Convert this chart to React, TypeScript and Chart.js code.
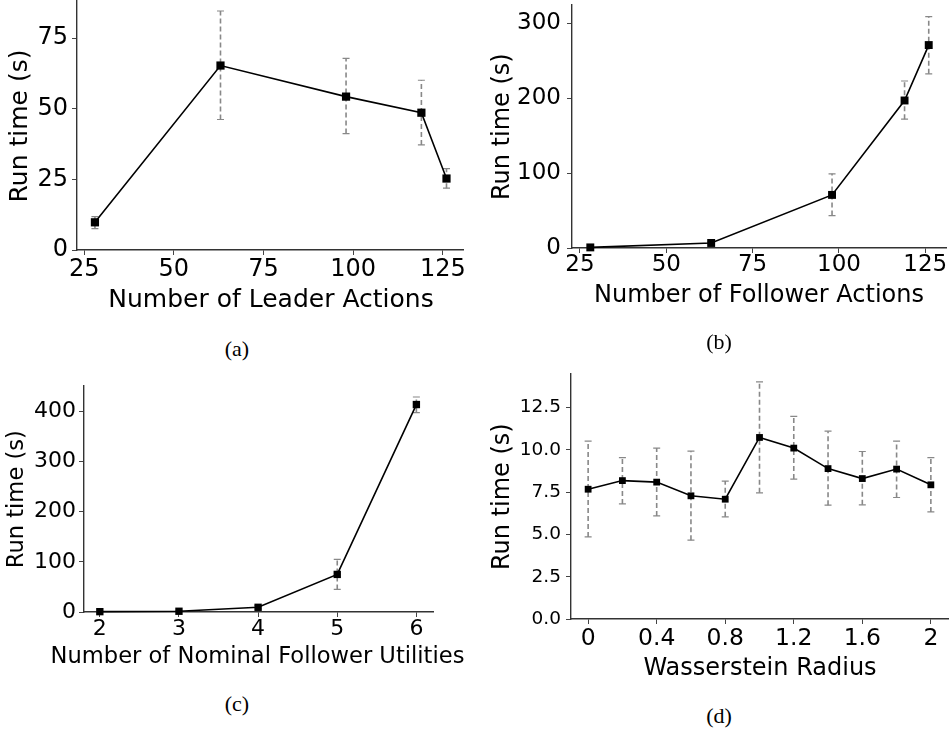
import React, { useEffect, useRef } from "react";
import { Chart, registerables } from "chart.js";

Chart.register(...registerables);

// ---------- data ----------
const leaderActions = [28, 63, 98, 119, 126];
const leaderTime = [9.8, 65.3, 54.3, 48.6, 25.3];
const leaderLow = [7.6, 46.2, 41.2, 37.2, 21.9];
const leaderHigh = [11.8, 84.6, 67.8, 60.1, 28.8];
const leaderXTicks = [25, 50, 75, 100, 125];
const leaderYTicks = [0, 25, 50, 75];

const followerActions = [28, 63, 98, 119, 126];
const followerTime = [0.8, 6.7, 70.9, 197, 271];
const followerLow = [0.3, 5, 43.3, 172, 232.6];
const followerHigh = [1.3, 8.5, 99, 223, 309];
const followerXTicks = [25, 50, 75, 100, 125];
const followerYTicks = [0, 100, 200, 300];

const utilityCounts = [2, 3, 4, 5, 6];
const utilityTime = [0.7, 1.5, 9.4, 75, 414];
const utilityLow = [0.4, 1.0, 6, 45, 398];
const utilityHigh = [1.0, 2.0, 13, 105, 429];
const utilityXTicks = [2, 3, 4, 5, 6];
const utilityYTicks = [0, 100, 200, 300, 400];

const radii = [0, 0.2, 0.4, 0.6, 0.8, 1.0, 1.2, 1.4, 1.6, 1.8, 2.0];
const radiusTime = [7.67, 8.18, 8.09, 7.28, 7.08, 10.73, 10.1, 8.89, 8.3, 8.86, 7.93];
const radiusLow = [4.85, 6.8, 6.09, 4.66, 6.04, 7.46, 8.27, 6.73, 6.75, 7.18, 6.33];
const radiusHigh = [10.51, 9.54, 10.1, 9.92, 8.15, 14.02, 11.97, 11.1, 9.9, 10.51, 9.54];
const radiusXTicks = [0, 0.4, 0.8, 1.2, 1.6, 2];
const radiusYTicks = [0, 2.5, 5, 7.5, 10, 12.5];

const yTitle = "Run time (s)";
const captions = ["(a)", "(b)", "(c)", "(d)"];

const FONT = "DejaVu Sans";

// ---------- plugins ----------
const errorBarPlugin = {
  id: "errorBars",
  beforeDatasetsDraw(chart: any) {
    const ctx = chart.ctx;
    const xs = chart.scales.x;
    const ys = chart.scales.y;
    chart.data.datasets.forEach((ds: any) => {
      ds.data.forEach((pt: any, i: number) => {
        const x = xs.getPixelForValue(pt.x);
        const yl = ys.getPixelForValue(ds.errLow[i]);
        const yh = ys.getPixelForValue(ds.errHigh[i]);
        ctx.save();
        ctx.strokeStyle = "#888";
        ctx.lineWidth = 1.6;
        ctx.setLineDash([5, 3]);
        ctx.beginPath();
        ctx.moveTo(x, yl);
        ctx.lineTo(x, yh);
        ctx.stroke();
        ctx.setLineDash([]);
        ctx.lineWidth = 1.2;
        ctx.beginPath();
        ctx.moveTo(x - 3.5, yl);
        ctx.lineTo(x + 3.5, yl);
        ctx.moveTo(x - 3.5, yh);
        ctx.lineTo(x + 3.5, yh);
        ctx.stroke();
        ctx.restore();
      });
    });
  },
};

const axisTitlePlugin = {
  id: "axisTitles",
  afterDraw(chart: any, _args: any, opts: any) {
    const ctx = chart.ctx;
    ctx.save();
    ctx.fillStyle = "#000";
    ctx.font = `${opts.size}px "${FONT}"`;
    ctx.textAlign = "center";
    ctx.textBaseline = "alphabetic";
    ctx.fillText(opts.xText, opts.xCenter, opts.xBaseline);
    ctx.translate(opts.yBaseline, opts.yCenter);
    ctx.rotate(-Math.PI / 2);
    ctx.fillText(opts.yText, 0, 0);
    ctx.restore();
  },
};

type PanelCfg = {
  left: number; top: number; width: number; height: number;
  area: { left: number; right: number; top: number; bottom: number };
  xs: number[]; ys: number[]; low: number[]; high: number[];
  xTicks: number[]; yTicks: number[];
  xMin: number; xMax: number; yMin: number; yMax: number;
  xTitle: string;
  xTickSize: number; yTickSize: number; titleSize: number;
  xTickPad: number; yTickPad: number;
  xTitleBaseline: number; xTitleCenter: number;
  yTitleBaseline: number; yTitleCenter: number;
  marker: number;
  yFmt?: (v: number) => string;
};

function Panel({ cfg }: { cfg: PanelCfg }) {
  const ref = useRef<HTMLCanvasElement>(null);
  useEffect(() => {
    const p = cfg;
    const chart = new Chart(ref.current as HTMLCanvasElement, {
      type: "line",
      data: {
        datasets: [
          {
            data: p.xs.map((x, i) => ({ x, y: p.ys[i] })),
            errLow: p.low,
            errHigh: p.high,
            borderColor: "#000",
            borderWidth: 1.6,
            pointStyle: "rect",
            pointRadius: p.marker,
            pointBackgroundColor: "#000",
            pointBorderWidth: 0,
            tension: 0,
            fill: false,
            clip: false,
          } as any,
        ],
      },
      options: {
        responsive: false,
        maintainAspectRatio: false,
        animation: false,
        devicePixelRatio: 1,
        layout: {
          autoPadding: false,
          padding: { left: 0, top: p.area.top, right: p.width - p.area.right, bottom: 0 },
        },
        plugins: {
          legend: { display: false },
          tooltip: { enabled: false },
          title: { display: false },
          axisTitles: {
            size: p.titleSize,
            xText: p.xTitle,
            xCenter: p.xTitleCenter,
            xBaseline: p.xTitleBaseline,
            yText: yTitle,
            yCenter: p.yTitleCenter,
            yBaseline: p.yTitleBaseline,
          },
        },
        scales: {
          x: {
            type: "linear",
            min: p.xMin,
            max: p.xMax,
            afterBuildTicks: (s: any) => {
              s.ticks = p.xTicks.map((v) => ({ value: v }));
            },
            afterFit: (s: any) => {
              s.height = p.height - p.area.bottom;
              s.paddingLeft = 0;
              s.paddingRight = 0;
            },
            ticks: {
              autoSkip: false,
              maxRotation: 0,
              color: "#000",
              padding: p.xTickPad,
              font: { family: FONT, size: p.xTickSize },
              callback: (v: any) => String(v),
            },
            grid: { drawOnChartArea: false, drawTicks: true, tickLength: 5, color: "#444", lineWidth: 1 },
            border: { display: true, color: "#333", width: 1.4 },
            title: { display: false },
          },
          y: {
            type: "linear",
            min: p.yMin,
            max: p.yMax,
            afterBuildTicks: (s: any) => {
              s.ticks = p.yTicks.map((v) => ({ value: v }));
            },
            afterFit: (s: any) => {
              s.width = p.area.left;
              s.paddingTop = 0;
              s.paddingBottom = 0;
            },
            ticks: {
              autoSkip: false,
              color: "#000",
              padding: p.yTickPad,
              font: { family: FONT, size: p.yTickSize },
              callback: (v: any) => (p.yFmt ? p.yFmt(Number(v)) : String(v)),
            },
            grid: { drawOnChartArea: false, drawTicks: true, tickLength: 5, color: "#444", lineWidth: 1 },
            border: { display: true, color: "#333", width: 1.4 },
            title: { display: false },
          },
        },
      } as any,
      plugins: [errorBarPlugin, axisTitlePlugin],
    });
    return () => chart.destroy();
  }, []);
  return (
    <canvas
      ref={ref}
      width={cfg.width}
      height={cfg.height}
      style={{ position: "absolute", left: cfg.left, top: cfg.top }}
    />
  );
}

const panelA: PanelCfg = {
  left: 0, top: 0, width: 470, height: 330,
  area: { left: 77, right: 463, top: 0, bottom: 250 },
  xs: leaderActions, ys: leaderTime, low: leaderLow, high: leaderHigh,
  xTicks: leaderXTicks, yTicks: leaderYTicks,
  xMin: 23, xMax: 130.6, yMin: 0, yMax: 88.5,
  xTitle: "Number of Leader Actions",
  xTickSize: 24, yTickSize: 24, titleSize: 25,
  xTickPad: 0, yTickPad: 4,
  xTitleBaseline: 307, xTitleCenter: 271,
  yTitleBaseline: 27, yTitleCenter: 126,
  marker: 5.8,
};

const panelB: PanelCfg = {
  left: 470, top: 0, width: 479, height: 330,
  area: { left: 102, right: 476, top: 5, bottom: 248 },
  xs: followerActions, ys: followerTime, low: followerLow, high: followerHigh,
  xTicks: followerXTicks, yTicks: followerYTicks,
  xMin: 22.7, xMax: 131, yMin: 0, yMax: 324.5,
  xTitle: "Number of Follower Actions",
  xTickSize: 23, yTickSize: 23, titleSize: 24,
  xTickPad: -1.5, yTickPad: 6,
  xTitleBaseline: 302, xTitleCenter: 289,
  yTitleBaseline: 38.6, yTitleCenter: 126.7,
  marker: 5.6,
};

const panelC: PanelCfg = {
  left: 0, top: 370, width: 470, height: 320,
  area: { left: 84, right: 433, top: 16, bottom: 242 },
  xs: utilityCounts, ys: utilityTime, low: utilityLow, high: utilityHigh,
  xTicks: utilityXTicks, yTicks: utilityYTicks,
  xMin: 1.8, xMax: 6.21, yMin: 0, yMax: 451,
  xTitle: "Number of Nominal Follower Utilities",
  xTickSize: 22, yTickSize: 22, titleSize: 22.6,
  xTickPad: -1, yTickPad: 3,
  xTitleBaseline: 293.3, xTitleCenter: 257.5,
  yTitleBaseline: 23.1, yTitleCenter: 129.2,
  marker: 5.2,
};

const panelD: PanelCfg = {
  left: 470, top: 370, width: 479, height: 320,
  area: { left: 101, right: 478, top: 4, bottom: 249 },
  xs: radii, ys: radiusTime, low: radiusLow, high: radiusHigh,
  xTicks: radiusXTicks, yTicks: radiusYTicks,
  xMin: -0.1, xMax: 2.1, yMin: 0, yMax: 14.48,
  xTitle: "Wasserstein Radius",
  xTickSize: 23.5, yTickSize: 18.5, titleSize: 24,
  xTickPad: 0.5, yTickPad: 5,
  xTitleBaseline: 305, xTitleCenter: 290,
  yTitleBaseline: 38.6, yTitleCenter: 126.7,
  marker: 4.8,
  yFmt: (v) => v.toFixed(1),
};

const captionPos = [
  { x: 237, y: 351 },
  { x: 719, y: 344 },
  { x: 237, y: 706 },
  { x: 719, y: 718 },
];

export default function App() {
  return (
    <div
      style={{
        position: "absolute",
        left: 0,
        top: 0,
        width: 949,
        height: 732,
        background: "#fff",
        overflow: "hidden",
      }}
    >
      <Panel cfg={panelA} />
      <Panel cfg={panelB} />
      <Panel cfg={panelC} />
      <Panel cfg={panelD} />
      {captions.map((c, i) => (
        <div
          key={c}
          style={{
            position: "absolute",
            left: captionPos[i].x - 40,
            top: captionPos[i].y - 13,
            width: 80,
            textAlign: "center",
            fontFamily: "'Liberation Serif', serif",
            fontSize: 22,
            lineHeight: "22px",
            color: "#000",
          }}
        >
          {c}
        </div>
      ))}
    </div>
  );
}
